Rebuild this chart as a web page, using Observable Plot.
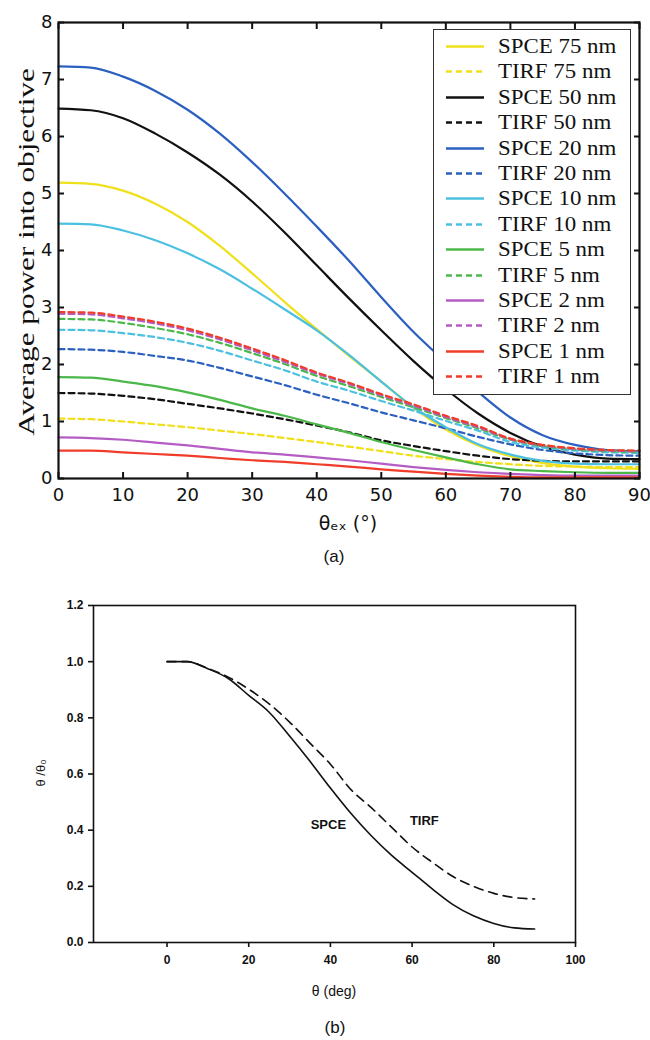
<!DOCTYPE html>
<html>
<head>
<meta charset="utf-8">
<script src="https://cdn.jsdelivr.net/npm/d3@7"></script>
<script src="https://cdn.jsdelivr.net/npm/@observablehq/plot@0.6"></script>
<style>
  body { margin: 0; background: #ffffff; }
  #page { position: relative; width: 650px; height: 1040px; overflow: hidden; background: #fff; }
  .abs { position: absolute; white-space: nowrap; color: #111; }
  #page svg { overflow: visible; }
</style>
</head>
<body>
<div id="page"></div>
<script>
// ---------------- Panel (a) data ----------------
const angleA = [0, 5, 10, 15, 20, 25, 30, 35, 40, 45, 50, 55, 60, 65, 70, 75, 80, 85, 90];
const spce75 = [5.19, 5.17, 5.05, 4.82, 4.50, 4.08, 3.60, 3.10, 2.62, 2.15, 1.70, 1.24, 0.86, 0.58, 0.39, 0.27, 0.21, 0.18, 0.17];
const tirf75 = [1.05, 1.04, 1.00, 0.95, 0.90, 0.84, 0.78, 0.71, 0.64, 0.56, 0.48, 0.40, 0.34, 0.29, 0.25, 0.22, 0.21, 0.20, 0.20];
const spce50 = [6.49, 6.46, 6.32, 6.05, 5.72, 5.33, 4.86, 4.32, 3.74, 3.16, 2.60, 2.06, 1.57, 1.14, 0.80, 0.56, 0.42, 0.35, 0.34];
const tirf50 = [1.50, 1.49, 1.45, 1.39, 1.31, 1.23, 1.14, 1.04, 0.93, 0.81, 0.67, 0.57, 0.48, 0.40, 0.34, 0.31, 0.30, 0.30, 0.30];
const spce20 = [7.23, 7.21, 7.05, 6.80, 6.47, 6.05, 5.55, 5.00, 4.42, 3.82, 3.18, 2.57, 2.04, 1.52, 1.07, 0.76, 0.59, 0.50, 0.48];
const tirf20 = [2.27, 2.26, 2.22, 2.15, 2.07, 1.94, 1.79, 1.64, 1.47, 1.32, 1.16, 1.02, 0.88, 0.73, 0.60, 0.50, 0.44, 0.41, 0.40];
const spce10 = [4.47, 4.46, 4.35, 4.18, 3.95, 3.67, 3.33, 2.97, 2.60, 2.17, 1.70, 1.25, 0.90, 0.60, 0.42, 0.31, 0.26, 0.25, 0.25];
const tirf10 = [2.61, 2.60, 2.55, 2.48, 2.38, 2.24, 2.07, 1.90, 1.70, 1.54, 1.36, 1.19, 1.01, 0.84, 0.64, 0.54, 0.49, 0.46, 0.45];
const spce5  = [1.78, 1.77, 1.70, 1.62, 1.51, 1.38, 1.23, 1.10, 0.95, 0.80, 0.64, 0.50, 0.37, 0.25, 0.16, 0.13, 0.11, 0.10, 0.10];
const tirf5  = [2.80, 2.79, 2.73, 2.64, 2.53, 2.38, 2.20, 2.01, 1.80, 1.62, 1.43, 1.25, 1.06, 0.88, 0.68, 0.57, 0.51, 0.48, 0.47];
const spce2  = [0.72, 0.71, 0.68, 0.63, 0.58, 0.52, 0.46, 0.42, 0.37, 0.32, 0.26, 0.20, 0.15, 0.11, 0.08, 0.06, 0.05, 0.05, 0.05];
const tirf2  = [2.89, 2.88, 2.81, 2.72, 2.60, 2.44, 2.25, 2.05, 1.84, 1.66, 1.46, 1.28, 1.08, 0.90, 0.69, 0.58, 0.52, 0.49, 0.48];
const spce1  = [0.49, 0.49, 0.46, 0.43, 0.40, 0.36, 0.32, 0.29, 0.25, 0.21, 0.16, 0.12, 0.08, 0.05, 0.03, 0.02, 0.02, 0.02, 0.02];
const tirf1  = [2.92, 2.91, 2.84, 2.75, 2.63, 2.47, 2.28, 2.08, 1.86, 1.68, 1.48, 1.30, 1.10, 0.92, 0.70, 0.59, 0.53, 0.50, 0.49];

const seriesLabels = ["SPCE 75 nm", "TIRF 75 nm", "SPCE 50 nm", "TIRF 50 nm", "SPCE 20 nm", "TIRF 20 nm",
  "SPCE 10 nm", "TIRF 10 nm", "SPCE 5 nm", "TIRF 5 nm", "SPCE 2 nm", "TIRF 2 nm", "SPCE 1 nm", "TIRF 1 nm"];
const seriesValues = [spce75, tirf75, spce50, tirf50, spce20, tirf20, spce10, tirf10, spce5, tirf5, spce2, tirf2, spce1, tirf1];
const seriesColors = ["#f0e01c", "#f0e01c", "#111111", "#111111", "#2b5fc0", "#2b5fc0", "#4cc0e0", "#4cc0e0",
  "#4cb84a", "#4cb84a", "#b45cc4", "#b45cc4", "#f03c28", "#f03c28"];
const seriesDashed = [false, true, false, true, false, true, false, true, false, true, false, true, false, true];

const xTicksA = [0, 10, 20, 30, 40, 50, 60, 70, 80, 90];
const yTicksA = [0, 1, 2, 3, 4, 5, 6, 7, 8];

// ---------------- Panel (b) data ----------------
const angleB = [0, 5, 10, 15, 20, 25, 30, 35, 40, 45, 50, 55, 60, 65, 70, 75, 80, 85, 90];
const spceRatio = [1.0, 1.0, 0.975, 0.94, 0.88, 0.82, 0.735, 0.645, 0.55, 0.46, 0.38, 0.31, 0.25, 0.19, 0.135, 0.095, 0.068, 0.052, 0.048];
const tirfRatio = [1.0, 1.0, 0.976, 0.945, 0.902, 0.85, 0.785, 0.71, 0.635, 0.545, 0.48, 0.41, 0.34, 0.285, 0.235, 0.2, 0.175, 0.16, 0.155];
const xTicksB = [0, 20, 40, 60, 80, 100];
const yTicksB = [0, 0.2, 0.4, 0.6, 0.8, 1.0, 1.2];
const annotationsB = [{label: "SPCE", angle: 39.5, ratio: 0.42}, {label: "TIRF", angle: 63, ratio: 0.435}];

// ---------------- Build ----------------
const page = document.getElementById("page");
function place(el, left, top) {
  el.style.position = "absolute";
  el.style.left = left + "px";
  el.style.top = top + "px";
  page.appendChild(el);
}
function label(text, cx, cy, css, rotate, stretch) {
  const d = document.createElement("div");
  d.className = "abs";
  d.textContent = text;
  Object.assign(d.style, css);
  d.style.left = cx + "px";
  d.style.top = cy + "px";
  d.style.lineHeight = "1";
  d.style.transform = "translate(-50%,-50%)" + (rotate ? " rotate(-90deg)" : "") + (stretch ? ` scaleX(${stretch})` : "");
  page.appendChild(d);
  return d;
}

// Panel (a)
const lineMarks = seriesValues.map((vals, i) =>
  Plot.line(angleA.map((a, j) => ({angle: a, value: vals[j]})), {
    x: "angle", y: "value",
    stroke: seriesColors[i],
    strokeWidth: 2.2,
    strokeDasharray: seriesDashed[i] ? "6,4" : null,
    curve: "monotone-x"
  })
);

const plotA = Plot.plot({
  width: 650, height: 535,
  marginLeft: 58, marginRight: 11, marginTop: 22, marginBottom: 57,
  x: {domain: [0, 90]},
  y: {domain: [0, 8]},
  style: {fontFamily: "DejaVu Sans", fontSize: "18px", color: "#111", background: "transparent"},
  marks: [
    ...lineMarks,
    Plot.frame({stroke: "#111", strokeWidth: 2.2}),
    Plot.axisX(xTicksA, {anchor: "bottom", tickSize: -6, tickPadding: 16, strokeWidth: 2, label: null, fontSize: 18, tickFormat: d3.format("d")}),
    Plot.axisX(xTicksA, {anchor: "top", tickSize: -6, strokeWidth: 2, tickFormat: () => "", label: null}),
    Plot.axisY(yTicksA, {anchor: "left", tickSize: -6, tickPadding: 12, strokeWidth: 2, label: null, fontSize: 18, tickFormat: d3.format("d")}),
    Plot.axisY(yTicksA, {anchor: "right", tickSize: -6, strokeWidth: 2, tickFormat: () => "", label: null})
  ]
});
place(plotA, 0, 0);

label("Average power into objective", 26, 252, {fontFamily: "'Liberation Serif', serif", fontSize: "24px"}, true, 1.3);
label("θₑₓ (°)", 348, 523, {fontFamily: "'DejaVu Sans', sans-serif", fontSize: "19px"});
label("(a)", 334, 556, {fontFamily: "'Liberation Sans', Arial, sans-serif", fontSize: "17px"});

// Legend for panel (a)
const legend = document.createElement("div");
Object.assign(legend.style, {
  width: "196px", height: "360px", border: "1.5px solid #333", background: "#fff",
  boxSizing: "content-box", paddingTop: "4px"
});
seriesLabels.forEach((name, i) => {
  const row = document.createElement("div");
  Object.assign(row.style, {position: "relative", height: "25.4px"});
  const svgNS = "http://www.w3.org/2000/svg";
  const sw = document.createElementNS(svgNS, "svg");
  sw.setAttribute("width", "40"); sw.setAttribute("height", "25");
  Object.assign(sw.style, {position: "absolute", left: "11px", top: "0px"});
  const ln = document.createElementNS(svgNS, "line");
  ln.setAttribute("x1", "1"); ln.setAttribute("x2", "39");
  ln.setAttribute("y1", "12.5"); ln.setAttribute("y2", "12.5");
  ln.setAttribute("stroke", seriesColors[i]);
  ln.setAttribute("stroke-width", "2.4");
  if (seriesDashed[i]) ln.setAttribute("stroke-dasharray", "6,4");
  sw.appendChild(ln);
  row.appendChild(sw);
  const t = document.createElement("div");
  t.textContent = name;
  Object.assign(t.style, {position: "absolute", left: "64px", top: "0px", lineHeight: "25px",
    fontFamily: "'Liberation Serif', serif", fontSize: "21px", color: "#111", whiteSpace: "nowrap",
    transform: "scaleX(1.09)", transformOrigin: "left center"});
  row.appendChild(t);
  legend.appendChild(row);
});
place(legend, 433, 29);

// Panel (b)
const dataB = angleB.map((a, j) => ({angle: a, spce: spceRatio[j], tirf: tirfRatio[j]}));
const plotB = Plot.plot({
  width: 650, height: 400,
  marginLeft: 93, marginRight: 75, marginTop: 25, marginBottom: 38,
  x: {domain: [-18, 100]},
  y: {domain: [0, 1.2]},
  style: {fontFamily: "'Liberation Sans', Arial, sans-serif", fontSize: "12px", color: "#111", background: "transparent"},
  marks: [
    Plot.line(dataB, {x: "angle", y: "spce", stroke: "#111", strokeWidth: 1.6, curve: "monotone-x"}),
    Plot.line(dataB, {x: "angle", y: "tirf", stroke: "#111", strokeWidth: 1.6, strokeDasharray: "9,6", curve: "monotone-x"}),
    Plot.text(annotationsB, {x: "angle", y: "ratio", text: "label", fontSize: 13, fontWeight: "bold", fill: "#111"}),
    Plot.frame({stroke: "#111", strokeWidth: 1.6}),
    Plot.axisX(xTicksB, {anchor: "bottom", tickSize: 5, tickPadding: 8, strokeWidth: 1.6, fontWeight: "bold", label: null}),
    Plot.axisY(yTicksB, {anchor: "left", tickSize: 5, tickPadding: 5, strokeWidth: 1.6, fontWeight: "bold", tickFormat: d3.format(".1f"), label: null})
  ]
});
place(plotB, 0, 580);

label("θ /θ₀", 40, 773, {fontFamily: "'Liberation Sans', Arial, sans-serif", fontSize: "13px"}, true);
label("θ (deg)", 334, 991, {fontFamily: "'Liberation Sans', Arial, sans-serif", fontSize: "14px"});
label("(b)", 335, 1027, {fontFamily: "'Liberation Sans', Arial, sans-serif", fontSize: "17px"});
</script>
</body>
</html>
